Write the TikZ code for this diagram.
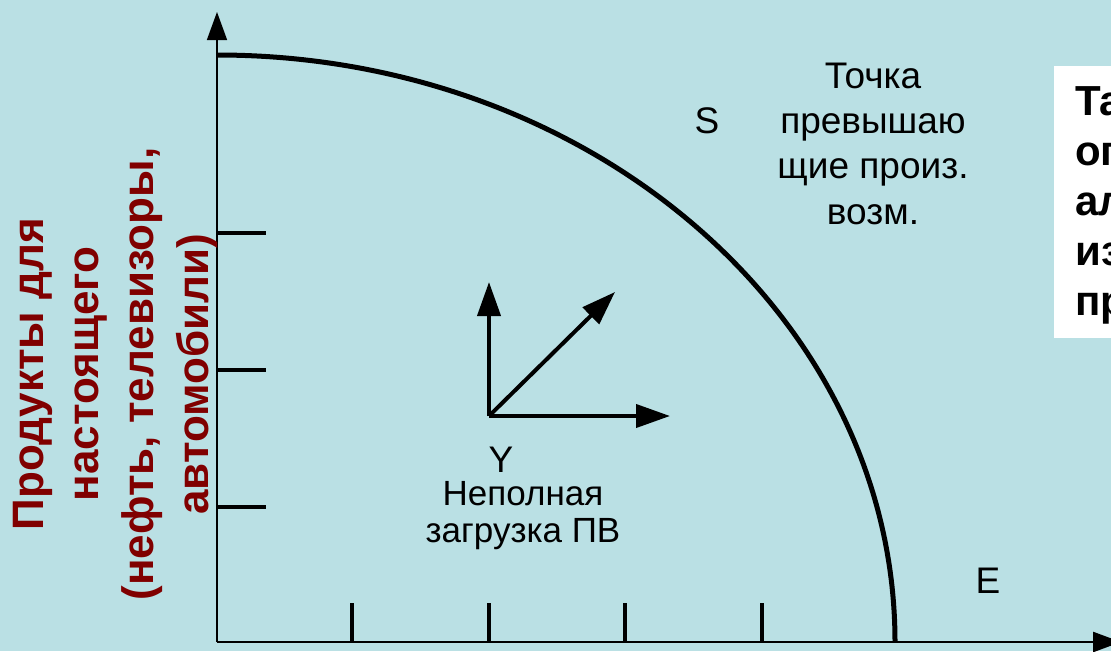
\documentclass[tikz,border=0pt]{standalone}
\usepackage{fontspec}
\setmainfont{Liberation Sans}
\usetikzlibrary{arrows.meta}

\definecolor{bgblue}{RGB}{186,224,228}
\definecolor{axisred}{RGB}{128,0,0}

\begin{document}
\begin{tikzpicture}[x=1pt,y=-1pt,
    lbl/.style={font=\fontsize{37}{44}\selectfont, inner sep=0pt, anchor=base},
    smalllbl/.style={font=\fontsize{35}{40}\selectfont, inner sep=0pt, anchor=base},
    boxtxt/.style={font=\bfseries\fontsize{42}{50}\selectfont, inner sep=0pt, anchor=base west},
    bigarrow/.style={line width=4pt, -{Triangle[length=34pt,width=23pt]}}
]

\useasboundingbox (0,0) rectangle (1111,651);
\clip (0,0) rectangle (1111,651);
\fill[bgblue] (0,0) rectangle (1111,651);

% Axes
\coordinate (O) at (217,642);
\coordinate (ytop) at (217,12);
\coordinate (xend) at (1121,642);
\draw[line width=1.5pt, -{Triangle[length=28pt,width=20pt]}] (O) -- (ytop);
\draw[line width=2.5pt, -{Triangle[length=28pt,width=20pt]}] (O) -- (xend);

% Ticks
\foreach \y in {233,370,507}{
    \draw[line width=4pt] (217,\y) -- (266,\y);
}
\foreach \x in {352,489,625,762}{
    \draw[line width=3.5pt] (\x,603) -- (\x,642);
}

% Frontier
\draw[line width=5pt] (217,55) arc[start angle=-90, end angle=0,
    x radius=678, y radius=587];

% Growth arrows
\coordinate (v0) at (489,416);
\coordinate (vup) at (489,282);
\coordinate (vright) at (670,416);
\coordinate (vdiag) at (615,292);
\draw[bigarrow] (v0) -- (vup);
\draw[bigarrow] (v0) -- (vright);
\draw[bigarrow] (v0) -- (vdiag);

% Labels
\node[lbl] (S) at (707,133) {S};
\node[lbl] (E) at (988,593) {E};
\node[lbl] (Y) at (501,472) {Y};

\foreach \t/\b [count=\i] in {Точка/88, превышаю/133, щие произ./178, возм./224}{
    \node[lbl] (pt\i) at (873,\b) {\t};
}

\node[smalllbl] (np1) at (523,505) {Неполная};
\node[smalllbl] (np2) at (523,542) {загрузка ПВ};

% Axis title
\node[rotate=90, align=center, text=axisred, inner sep=0pt,
      font=\bfseries\fontsize{44}{55}\selectfont] (ytitle) at (115,374)
    {Продукты для\\настоящего\\(нефть, телевизоры,\\автомобили)};

% Side box
\fill[white] (1054,66) rectangle (1115,338);
\foreach \t [count=\i] in {Та,оп,ал,из,пр}{
    \node[boxtxt] (bx\i) at (1075,65+50*\i) {\t};
}

\end{tikzpicture}
\end{document}
